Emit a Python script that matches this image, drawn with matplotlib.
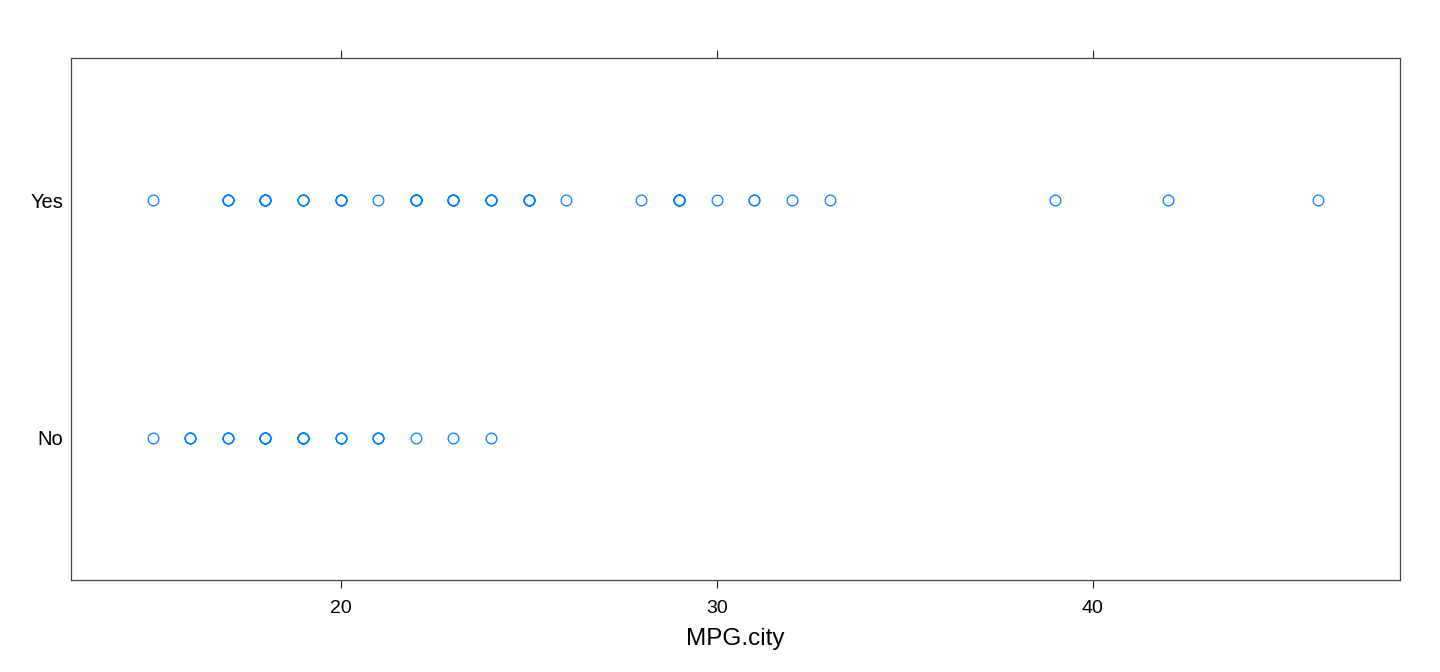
import matplotlib
matplotlib.use("Agg")
import matplotlib.pyplot as plt
import numpy as np

# Data: MPG.city values by manual transmission availability (repeats = overlapping points)
yes_values = [15, 17, 17, 17, 17, 18, 18, 18, 18, 18, 18, 19, 19, 19, 20, 20, 20, 20,
              21, 22, 22, 22, 22, 22, 23, 23, 23, 23, 23, 24, 24, 24, 24,
              25, 25, 25, 25, 25, 26, 28, 29, 29, 29, 29, 29, 30, 31, 31, 32, 33,
              39, 42, 46]
no_values = [15, 16, 16, 16, 17, 17, 17, 18, 18, 18, 18, 18, 19, 19, 19, 19, 19, 19,
             20, 20, 20, 21, 21, 21, 22, 23, 24]
categories = ["No", "Yes"]
x_ticks = [20, 30, 40]
x_label = "MPG.city"

plt.rcParams['font.family'] = ['Liberation Sans', 'DejaVu Sans']

fig = plt.figure(figsize=(14.4, 6.72), dpi=100)
ax = fig.add_axes([71/1440, 1 - 580/672, (1400 - 71)/1440, (580 - 58)/672])

series = {"No": no_values, "Yes": yes_values}
for i, cat in enumerate(categories, start=1):
    vals = np.array(series[cat], dtype=float)
    ax.plot(vals, np.full(len(vals), i), linestyle='none', marker='o',
            markersize=7.7, markerfacecolor='none', markeredgecolor='#0080ff',
            markeredgewidth=0.9)

lo = min(min(yes_values), min(no_values))
hi = max(max(yes_values), max(no_values))
pad = 0.07 * (hi - lo)
ax.set_xlim(lo - pad, hi + pad)
ax.set_ylim(0.4, 2.6)

ax.set_yticks([1, 2])
ax.set_yticklabels(categories, fontsize=14.5)
ax.tick_params(axis='y', length=0, pad=5.5)

ax.set_xticks(x_ticks)
ax.set_xticklabels([str(t) for t in x_ticks], fontsize=14)
ax.tick_params(axis='x', direction='out', length=6, width=0.8, color='#222222',
               top=True, labeltop=False, bottom=True, labelbottom=True, pad=8.5)

for s in ax.spines.values():
    s.set_color('#444444')
    s.set_linewidth(0.9)

ax.set_xlabel(x_label, fontsize=17.5, labelpad=8)

fig.savefig("out.png", dpi=100, facecolor='white')
